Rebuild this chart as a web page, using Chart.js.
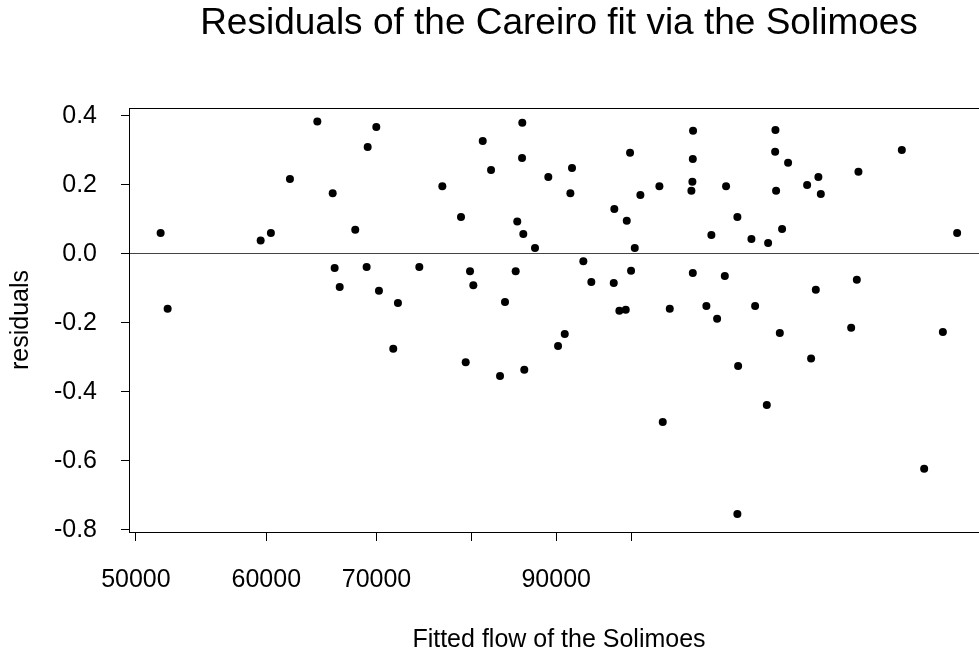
<!DOCTYPE html>
<html>
<head>
<meta charset="utf-8">
<title>Residuals of the Careiro fit via the Solimoes</title>
<script src="https://cdn.jsdelivr.net/npm/chart.js@4.4.1/dist/chart.umd.min.js"></script>
<style>
  html, body { margin: 0; padding: 0; background: #fff; overflow: hidden; }
  #wrap { position: absolute; left: 0; top: 0; width: 1000px; height: 655px; }
</style>
</head>
<body>
<div id="wrap"><canvas id="resChart" width="1000" height="655"></canvas></div>
<script>
// fitted flow of the Solimoes (x) and residuals of the Careiro fit (y)
var fitted = [51760, 52270, 59530, 60390, 62020, 64440, 65840, 67950, 69140, 69980,
    66020, 66490, 69040, 70240, 72130, 74320, 76750, 78780, 79780, 80150,
    81210, 82160, 83780, 85040, 85230, 85800, 85830, 85950, 87370, 89010,
    71660, 79300, 83200, 86070,
    92010, 91800, 99790, 97620, 99330, 100450, 101240, 103970, 108980, 108940,
    108880, 108730, 111810, 114130, 115950, 118250, 121040, 122290, 122240, 124470,
    122400, 123430, 127830, 129860, 130300, 137340, 145930, 157670,
    93480, 94530, 97540, 99930, 98310, 99190, 91080, 90230, 108940, 113930,
    105490, 111030, 112710, 118860, 123040, 129390, 137030, 135950, 128540, 154550,
    116070, 120820, 104460, 150560, 115950];
var residuals = [0.061, -0.159, 0.039, 0.061, 0.217, 0.384, 0.176, 0.070, 0.310, 0.368,
    -0.041, -0.096, -0.038, -0.107, -0.142, -0.038, 0.196, 0.107, -0.050, -0.091,
    0.327, 0.243, -0.139, -0.050, 0.094, 0.278, 0.380, 0.058, 0.017, 0.223,
    -0.275, -0.314, -0.354, -0.336,
    0.249, 0.176, 0.293, 0.130, 0.096, 0.017, 0.171, 0.196, 0.357, 0.275,
    0.209, 0.183, 0.055, 0.196, 0.107, 0.043, 0.032, 0.359, 0.296, 0.264,
    0.183, 0.072, 0.200, 0.223, 0.174, 0.238, 0.301, 0.061,
    -0.021, -0.081, -0.084, -0.049, -0.165, -0.162, -0.232, -0.267, -0.055, -0.064,
    -0.159, -0.151, -0.188, -0.151, -0.229, -0.104, -0.075, -0.214, -0.303, -0.226,
    -0.325, -0.438, -0.487, -0.623, -0.754];

var xTicks = [50000, 60000, 70000, 80000, 90000, 100000];
var xTickLabels = ['50000', '60000', '70000', '', '90000', ''];
var yTicks = [-0.8, -0.6, -0.4, -0.2, 0, 0.2, 0.4];

var points = fitted.map(function (f, i) { return { x: f, y: residuals[i] }; });

Chart.defaults.font.family = "'Liberation Sans', Arial, sans-serif";
Chart.defaults.color = '#000';

// box around the plot region
var frame = {
    id: 'frame',
    afterDraw: function (chart) {
        var a = chart.chartArea, c = chart.ctx;
        c.save();
        c.strokeStyle = '#000';
        c.lineWidth = 1;
        c.strokeRect(Math.round(a.left) + 0.5, Math.round(a.top) + 0.5,
            Math.round(a.right - a.left), Math.round(a.bottom - a.top));
        c.restore();
    }
};

var ctx = document.getElementById('resChart').getContext('2d');
var resChart = new Chart(ctx, {
    type: 'scatter',
    data: {
        datasets: [{
            data: points,
            pointRadius: 4,
            pointHoverRadius: 4,
            pointBackgroundColor: '#000',
            pointBorderWidth: 0
        }]
    },
    options: {
        responsive: false,
        animation: false,
        layout: { padding: { left: 0, right: 11, top: 0, bottom: 0 } },
        plugins: {
            legend: { display: false },
            tooltip: { enabled: false },
            title: {
                display: true,
                text: 'Residuals of the Careiro fit via the Solimoes',
                fullSize: false,
                font: { size: 37, weight: 'normal' },
                padding: { top: 2, bottom: 61.6 }
            }
        },
        scales: {
            x: {
                type: 'logarithmic',
                min: 49520,
                max: 164850,
                afterBuildTicks: function (s) {
                    s.ticks = xTicks.map(function (v) { return { value: v }; });
                },
                afterFit: function (s) { s.height = 123; },
                grid: { drawOnChartArea: false, tickLength: 9, tickColor: '#000' },
                border: { display: false },
                ticks: {
                    autoSkip: false,
                    maxRotation: 0,
                    padding: 24,
                    font: { size: 25 },
                    callback: function (v, i) { return xTickLabels[i]; }
                },
                title: {
                    display: true,
                    text: 'Fitted flow of the Solimoes',
                    font: { size: 25 },
                    padding: { top: 0, bottom: 0 }
                }
            },
            y: {
                min: -0.806,
                max: 0.423,
                afterBuildTicks: function (s) {
                    s.ticks = yTicks.map(function (v) { return { value: v }; });
                },
                afterFit: function (s) { s.width = 129; },
                grid: {
                    color: function (c) {
                        return c.tick && c.tick.value === 0 ? '#444' : 'rgba(0,0,0,0)';
                    },
                    tickColor: '#000',
                    tickLength: 8
                },
                border: { display: false },
                ticks: {
                    padding: 24,
                    font: { size: 25 },
                    callback: function (v) { return v.toFixed(1); }
                },
                title: {
                    display: true,
                    text: 'residuals',
                    font: { size: 25 },
                    padding: { top: 6, bottom: 0 }
                }
            }
        }
    },
    plugins: [frame]
});
</script>
</body>
</html>
